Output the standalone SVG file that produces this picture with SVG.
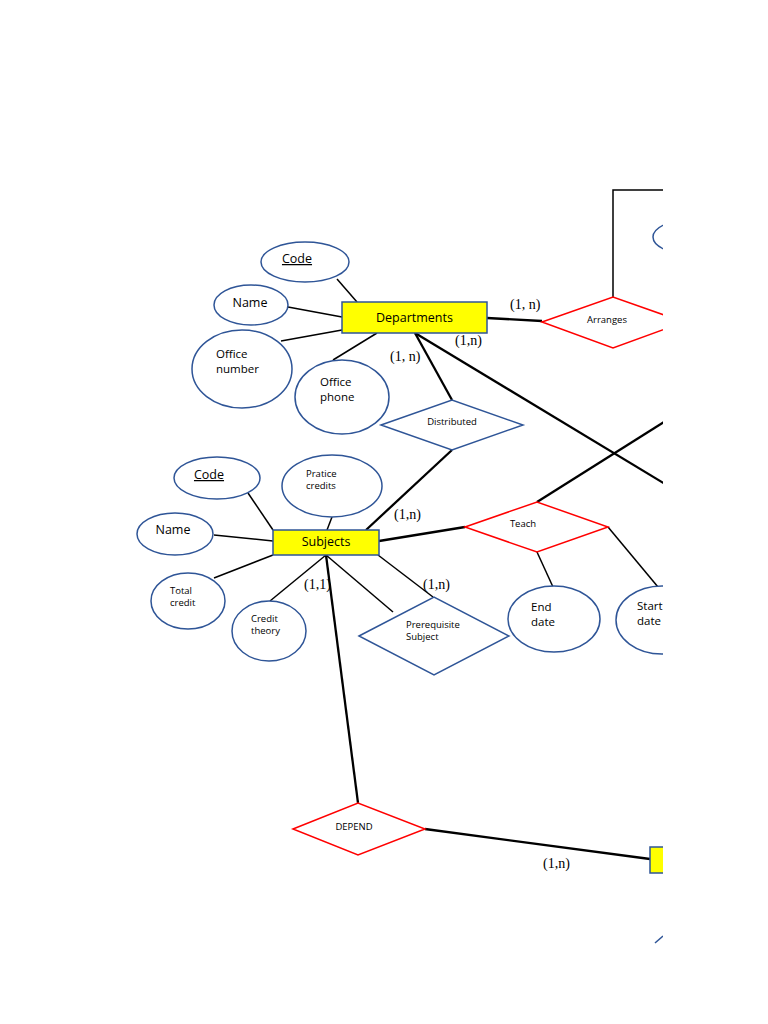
<svg xmlns="http://www.w3.org/2000/svg" width="768" height="1024" viewBox="0 0 768 1024">
<style>
.ent{fill:#FFFF00;stroke:#2F5597;stroke-width:1.5}
.att{fill:#fff;stroke:#2F5597;stroke-width:1.5}
.relr{fill:#fff;stroke:#FF0000;stroke-width:1.5}
.relb{fill:#fff;stroke:#2F5597;stroke-width:1.5}
.thin{stroke:#000;stroke-width:1.5;fill:none}
.thick{stroke:#000;stroke-width:2.3;fill:none}
.t{font-family:"Open Sans","Liberation Sans",sans-serif;fill:#000}
.big{font-size:12.5px}
.two{font-size:11.5px}
.sm{font-size:9.5px}
.card{font-family:"Liberation Serif",serif;font-size:14px;fill:#000}
</style>
<defs>
<clipPath id="c"><rect x="0" y="0" width="663" height="1024"/></clipPath>
</defs>
<rect width="768" height="1024" fill="#fff"/>
<g clip-path="url(#c)">
<g id="connectors">
<line class="thin" x1="337" y1="279" x2="357" y2="302"/>
<line class="thin" x1="288" y1="307" x2="342" y2="317"/>
<line class="thin" x1="281" y1="341" x2="342" y2="330"/>
<line class="thin" x1="333" y1="360" x2="377" y2="333"/>
<line class="thick" x1="487" y1="318" x2="542" y2="321"/>
<polyline class="thin" points="613,297 613,190 680,190"/>
<line class="thick" x1="415" y1="333" x2="452" y2="400"/>
<line class="thick" x1="415" y1="333" x2="680" y2="493"/>
<line class="thick" x1="452" y1="450" x2="366" y2="530"/>
<line class="thin" x1="248" y1="493" x2="273" y2="530"/>
<line class="thin" x1="214" y1="535" x2="273" y2="541"/>
<line class="thin" x1="214" y1="578" x2="273" y2="555"/>
<line class="thin" x1="270" y1="601" x2="326" y2="555"/>
<line class="thin" x1="332" y1="517" x2="327" y2="530"/>
<line class="thick" x1="379" y1="541" x2="465" y2="527"/>
<line class="thick" x1="537" y1="502" x2="680" y2="412"/>
<line class="thin" x1="537" y1="552" x2="553" y2="587"/>
<line class="thin" x1="608" y1="527" x2="658" y2="587"/>
<line class="thin" x1="378" y1="555" x2="433" y2="597"/>
<line class="thin" x1="326" y1="555" x2="393" y2="612"/>
<line class="thick" x1="326" y1="555" x2="358" y2="803"/>
<line class="thick" x1="425" y1="829" x2="650" y2="859"/>
<line stroke="#2F5597" stroke-width="1.5" x1="655" y1="943" x2="663" y2="936"/>
</g>
<g id="departments"><rect class="ent" x="342" y="302" width="145" height="31"/><text class="t big" x="414.5" y="322" text-anchor="middle">Departments</text></g>
<g id="dept-code"><ellipse class="att" cx="305" cy="262" rx="44" ry="20"/><text class="t big" x="297" y="263" text-anchor="middle" text-decoration="underline">Code</text></g>
<g id="dept-name"><ellipse class="att" cx="251" cy="305" rx="37" ry="20"/><text class="t big" x="250" y="307" text-anchor="middle">Name</text></g>
<g id="dept-office-number"><ellipse class="att" cx="242" cy="369" rx="50" ry="39"/><text class="t two" x="216" y="358">Office</text><text class="t two" x="216" y="373">number</text></g>
<g id="dept-office-phone"><ellipse class="att" cx="342" cy="397" rx="47" ry="37"/><text class="t two" x="320" y="386">Office</text><text class="t two" x="320" y="401">phone</text></g>
<g id="arranges"><polygon class="relr" points="542,322 613,297 684,322 613,348"/><text class="t sm" x="607" y="323" text-anchor="middle">Arranges</text></g>
<g id="arranges-attr"><ellipse class="att" cx="700" cy="237" rx="47" ry="19"/></g>
<g id="distributed"><polygon class="relb" points="381,425 452,400 523,425 452,450"/><text class="t sm" x="452" y="425" text-anchor="middle">Distributed</text></g>
<g id="subjects"><rect class="ent" x="273" y="530" width="106" height="25"/><text class="t big" x="326" y="546" text-anchor="middle">Subjects</text></g>
<g id="subj-code"><ellipse class="att" cx="217" cy="478" rx="43" ry="21"/><text class="t big" x="209" y="479" text-anchor="middle" text-decoration="underline">Code</text></g>
<g id="subj-name"><ellipse class="att" cx="175" cy="534" rx="38" ry="21"/><text class="t big" x="173" y="534" text-anchor="middle">Name</text></g>
<g id="subj-total-credit"><ellipse class="att" cx="188" cy="601" rx="37" ry="28"/><text class="t sm" x="170" y="594">Total</text><text class="t sm" x="170" y="606">credit</text></g>
<g id="subj-credit-theory"><ellipse class="att" cx="269" cy="631" rx="37" ry="30"/><text class="t sm" x="251" y="622">Credit</text><text class="t sm" x="251" y="634">theory</text></g>
<g id="subj-pratice-credits"><ellipse class="att" cx="332" cy="486" rx="50" ry="31"/><text class="t sm" x="306" y="477">Pratice</text><text class="t sm" x="306" y="489">credits</text></g>
<g id="teach"><polygon class="relr" points="465,527 537,502 608,527 537,552"/><text class="t sm" x="523" y="527" text-anchor="middle">Teach</text></g>
<g id="end-date"><ellipse class="att" cx="554" cy="619" rx="46" ry="33"/><text class="t two" x="531" y="611">End</text><text class="t two" x="531" y="626">date</text></g>
<g id="start-date"><ellipse class="att" cx="662" cy="620" rx="46" ry="34"/><text class="t two" x="637" y="610">Start</text><text class="t two" x="637" y="625">date</text></g>
<g id="prerequisite"><polygon class="relb" points="359,636 434,597 509,636 434,675"/><text class="t sm" x="406" y="628">Prerequisite</text><text class="t sm" x="406" y="640">Subject</text></g>
<g id="depend"><polygon class="relr" points="293,829 358,803 425,829 358,855"/><text class="t sm" x="354" y="830" text-anchor="middle">DEPEND</text></g>
<g id="entity-right"><rect class="ent" x="650" y="847" width="40" height="26"/></g>
<g id="labels">
<text class="card" x="510" y="309">(1, n)</text>
<text class="card" x="455" y="345">(1,n)</text>
<text class="card" x="390" y="361">(1, n)</text>
<text class="card" x="394" y="519">(1,n)</text>
<text class="card" x="304" y="589">(1,1)</text>
<text class="card" x="423" y="589">(1,n)</text>
<text class="card" x="543" y="868">(1,n)</text>
</g>
</g>
</svg>
